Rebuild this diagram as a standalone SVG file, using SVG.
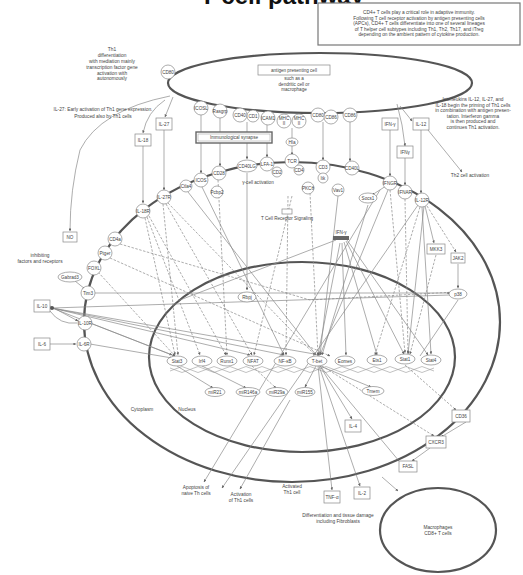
<svg xmlns="http://www.w3.org/2000/svg" width="523" height="575" viewBox="0 0 523 575">
<style>
text{font-family:"Liberation Sans",Arial,sans-serif;fill:#444;text-anchor:middle;font-size:4.6px}
.t{font-size:4.8px}
.mem{fill:none;stroke:#555;stroke-width:2.2}
.n{fill:#fff;stroke:#888;stroke-width:0.7}
.b{fill:#fff;stroke:#888;stroke-width:0.7}
.s{fill:none;stroke:#8a8a8a;stroke-width:0.7}
.d{fill:none;stroke:#8a8a8a;stroke-width:0.7;stroke-dasharray:2.5 1.5}
.title{font-size:24px;font-weight:bold;fill:#111;text-anchor:start}
</style>
<defs>
<marker id="a" viewBox="0 0 6 6" refX="5.5" refY="3" markerWidth="4" markerHeight="4" orient="auto"><path d="M0,0L6,3L0,6z" fill="#666"/></marker>
</defs>
<rect width="523" height="575" fill="#fff"/>
<text class="title" x="200" y="4">T cell pathway</text>

<!-- compartments -->
<g id="compartments">
<ellipse class="mem" cx="320" cy="83" rx="152" ry="30"/>
<ellipse class="mem" cx="292" cy="322" rx="208" ry="160"/>
<ellipse class="mem" cx="302" cy="357" rx="153" ry="95" stroke-width="1.8"/>
<ellipse class="mem" cx="438" cy="530" rx="58" ry="42" stroke-width="1.6"/>
<path d="M170,371 q4,-3 8,0 t8,0 t8,0 t8,0 t8,0 t8,0 t8,0 t8,0 t8,0 t8,0 t8,0 t8,0 t8,0 t8,0 t8,0 t8,0 t8,0 t8,0 t8,0 t8,0 t8,0 t8,0 t8,0 t8,0 t8,0 t8,0 t8,0 t8,0 t8,0 t8,0 t8,0 t8,0 t8,0" fill="none" stroke="#999" stroke-width="0.6"/>
<path d="M170,368 q4,3 8,0 t8,0 t8,0 t8,0 t8,0 t8,0 t8,0 t8,0 t8,0 t8,0 t8,0 t8,0 t8,0 t8,0 t8,0 t8,0 t8,0 t8,0 t8,0 t8,0 t8,0 t8,0 t8,0 t8,0 t8,0 t8,0 t8,0 t8,0 t8,0 t8,0 t8,0 t8,0 t8,0" fill="none" stroke="#999" stroke-width="0.6"/>
</g>

<!-- connectors -->
<g id="connectors">
<path class="s" d="M164,130V190" marker-end="url(#a)"/>
<path class="s" d="M143,146V203" marker-end="url(#a)"/>
<path class="s" d="M173,97L165,117" marker-end="url(#a)"/>
<path class="s" d="M165,100Q147,112 143,133" marker-end="url(#a)"/>
<path class="s" d="M170,96Q100,110 80,150Q70,190 70,231" marker-end="url(#a)"/>
<path class="s" d="M201,115V173" marker-end="url(#a)"/>
<path class="s" d="M220,118V166" marker-end="url(#a)"/>
<path class="s" d="M247,122V159" marker-end="url(#a)"/>
<path class="s" d="M267,125V157" marker-end="url(#a)"/>
<path class="s" d="M292,128V138"/>
<path class="s" d="M292,146V155" marker-end="url(#a)"/>
<path class="s" d="M323,122V160" marker-end="url(#a)"/>
<path class="s" d="M350,122V161" marker-end="url(#a)"/>
<path class="s" d="M390,130V176" marker-end="url(#a)"/>
<path class="s" d="M405,158V185" marker-end="url(#a)"/>
<path class="s" d="M421,130V193" marker-end="url(#a)"/>
<path class="s" d="M397,104Q403,125 405,146" marker-end="url(#a)"/>
<path class="s" d="M400,106L412,121" marker-end="url(#a)"/>
<path class="s" d="M428,130L462,172" marker-end="url(#a)"/>
<path class="d" d="M145,218L175,355" marker-end="url(#a)"/>
<path class="d" d="M147,217L200,355" marker-end="url(#a)"/>
<path class="d" d="M149,216L226,355" marker-end="url(#a)"/>
<path class="d" d="M166,204L252,355" marker-end="url(#a)"/>
<path class="d" d="M168,203L315,355" marker-end="url(#a)"/>
<path class="d" d="M163,204L178,355" marker-end="url(#a)"/>
<path class="s" d="M188,192L316,355" marker-end="url(#a)"/>
<path class="s" d="M202,187L284,355" marker-end="url(#a)"/>
<path class="d" d="M218,180L227,355" marker-end="url(#a)"/>
<path class="s" d="M247,173V290" marker-end="url(#a)"/>
<path class="d" d="M288,196L286,355" marker-end="url(#a)"/>
<path class="d" d="M292,196L254,355" marker-end="url(#a)"/>
<path class="d" d="M310,193L318,355" marker-end="url(#a)"/>
<path class="s" d="M338,196L320,355" marker-end="url(#a)"/>
<path class="s" d="M340,243L318,355" marker-end="url(#a)"/>
<path class="s" d="M342,243L346,355" marker-end="url(#a)"/>
<path class="s" d="M344,242L377,355" marker-end="url(#a)"/>
<path class="s" d="M346,241L404,354" marker-end="url(#a)"/>
<path class="s" d="M347,240L428,355" marker-end="url(#a)"/>
<path class="s" d="M336,240L180,300" />
<path class="d" d="M390,190L405,353" marker-end="url(#a)"/>
<path class="s" d="M388,190L320,355" marker-end="url(#a)"/>
<path class="s" d="M368,205L322,355" marker-end="url(#a)"/>
<path class="s" d="M386,186L372,195" marker-end="url(#a)"/>
<path class="d" d="M405,199L408,353" marker-end="url(#a)"/>
<path class="s" d="M422,207L431,354" marker-end="url(#a)"/>
<path class="s" d="M424,206L408,354" marker-end="url(#a)"/>
<path class="s" d="M425,206L434,243" marker-end="url(#a)"/>
<path class="d" d="M427,206L456,252" marker-end="url(#a)"/>
<path class="d" d="M420,207L375,355" marker-end="url(#a)"/>
<path class="s" d="M458,264V288" marker-end="url(#a)"/>
<path class="d" d="M436,255L410,354" marker-end="url(#a)"/>
<path class="s" d="M418,205L222,488" marker-end="url(#a)"/>
<path class="s" d="M380,190L204,482" marker-end="url(#a)"/>
<path class="s" d="M95,293H450" marker-end="url(#a)"/>
<path class="s" d="M75,281L85,289" marker-end="url(#a)"/>
<path class="d" d="M110,258L330,356" marker-end="url(#a)"/>
<path class="d" d="M98,272L175,356" marker-end="url(#a)"/>
<path class="d" d="M120,244L310,300L455,292"/>
<path class="s" d="M50,306L78,321" marker-end="url(#a)"/>
<path class="s" d="M52,308L172,355" marker-end="url(#a)"/>
<path class="s" d="M52,308L320,355" marker-end="url(#a)"/>
<path class="s" d="M52,308L284,355" marker-end="url(#a)"/>
<path class="s" d="M52,308L250,355" marker-end="url(#a)"/>
<path class="s" d="M52,308L450,295" />
<path class="s" d="M50,311Q60,325 77,323"/>
<path class="s" d="M90,323L175,356" marker-end="url(#a)"/>
<path class="s" d="M50,344H76" marker-end="url(#a)"/>
<path class="s" d="M90,344L172,358" marker-end="url(#a)"/>
<path class="s" d="M177,366L213,388" marker-end="url(#a)"/>
<path class="s" d="M202,366L246,388" marker-end="url(#a)"/>
<path class="d" d="M252,366L276,388" marker-end="url(#a)"/>
<path class="s" d="M316,366L305,387" marker-end="url(#a)"/>
<path class="s" d="M318,366L332,490" marker-end="url(#a)"/>
<path class="s" d="M319,366L360,486" marker-end="url(#a)"/>
<path class="s" d="M320,366L352,419" marker-end="url(#a)"/>
<path class="s" d="M320,366L399,461" marker-end="url(#a)"/>
<path class="d" d="M322,366L434,436" marker-end="url(#a)"/>
<path class="d" d="M405,365L456,410" marker-end="url(#a)"/>
<path class="s" d="M320,366L371,387" marker-end="url(#a)"/>
<path class="s" d="M290,400L240,489" marker-end="url(#a)"/>
<path class="s" d="M458,300L420,356"/>
<path class="s" d="M466,422L441,437" marker-end="url(#a)"/>
<path class="s" d="M430,448L412,461" marker-end="url(#a)"/>
<path class="s" d="M382,477L398,491" marker-end="url(#a)"/>
</g>

<g id="apc-label"><rect class="b" x="258" y="65" width="72" height="10"/><text x="294" y="71.5">antigen presenting cell</text><text x="294" y="80">such as a</text><text x="294" y="85.5">dendritic cell or</text><text x="294" y="91">macrophage</text></g>
<g id="cd80"><circle class="n" cx="168" cy="72" r="7"/><text x="168" y="73.5">CD80</text></g>
<g id="icosl"><circle class="n" cx="201" cy="108" r="7"/><text x="201" y="109.5">ICOSL</text></g>
<g id="apc2"><circle class="n" cx="220" cy="111" r="7"/><text x="220" y="112.5">Rasgrp</text></g>
<g id="cd40"><circle class="n" cx="240" cy="115" r="7"/><text x="240" y="116.5">CD40</text></g>
<g id="cd1"><circle class="n" cx="253" cy="116" r="6"/><text x="253" y="117.5">CD1</text></g>
<g id="icam1"><circle class="n" cx="268" cy="118" r="7"/><text x="268" y="119.5">ICAM1</text></g>
<g id="mhc"><circle class="n" cx="284" cy="121" r="7"/><circle class="n" cx="299" cy="121" r="7"/><text x="284" y="120">MHC</text><text x="284" y="124.5">II</text><text x="299" y="120">MHC</text><text x="299" y="124.5">II</text></g>
<g id="cd80b"><circle class="n" cx="318" cy="115" r="7"/><text x="318" y="116.5">CD80</text></g>
<g id="cd86"><circle class="n" cx="331" cy="117" r="7"/><text x="331" y="118.5">CD86</text></g>
<g id="cd86b"><circle class="n" cx="350" cy="115" r="7"/><text x="350" y="116.5">CD86</text></g>
<g id="synapse"><rect x="196" y="132" width="76" height="11" fill="#fff" stroke="#666" stroke-width="1.4"/><rect x="198" y="134" width="72" height="7" fill="none" stroke="#999" stroke-width="0.5"/><text x="234" y="139.3">Immunological synapse</text></g>
<g id="hla"><ellipse class="n" cx="292" cy="142" rx="6" ry="4"/><text x="292" y="143.5">Hla</text></g>

<g id="il27"><rect class="b" x="156" y="118" width="16" height="12"/><text x="164" y="125.5">IL-27</text></g>
<g id="il18"><rect class="b" x="135" y="134" width="16" height="12"/><text x="143" y="141.5">IL-18</text></g>
<g id="ifng1"><rect class="b" x="382" y="118" width="16" height="12"/><text x="390" y="125.5">IFN-γ</text></g>
<g id="il12"><rect class="b" x="413" y="118" width="16" height="12"/><text x="421" y="125.5">IL-12</text></g>
<g id="ifng2"><rect class="b" x="397" y="146" width="16" height="12"/><text x="405" y="153.5">IFNγ</text></g>
<g id="no"><rect class="b" x="63" y="232" width="14" height="10"/><text x="70" y="238.5">NO</text></g>
<g id="il10"><rect class="b" x="34" y="300" width="16" height="12"/><text x="42" y="307.5">IL-10</text><circle cx="52" cy="308" r="2" fill="#555"/></g>
<g id="il6"><rect class="b" x="34" y="338" width="16" height="12"/><text x="42" y="345.5">IL-6</text></g>
<g id="il4"><rect class="b" x="345" y="420" width="16" height="12"/><text x="353" y="427.5">IL-4</text></g>
<g id="tnf"><rect class="b" x="324" y="491" width="16" height="12"/><text x="332" y="498.5">TNF-α</text></g>
<g id="il2"><rect class="b" x="354" y="487" width="16" height="12"/><text x="362" y="494.5">IL-2</text></g>
<g id="cd36"><rect class="b" x="452" y="410" width="18" height="12"/><text x="461" y="417.5">CD36</text></g>
<g id="cxcr3"><rect class="b" x="426" y="436" width="20" height="12"/><text x="436" y="443.5">CXCR3</text></g>
<g id="fasl"><rect class="b" x="399" y="461" width="18" height="11"/><text x="408" y="468">FASL</text></g>

<g id="il18r"><circle class="n" cx="143" cy="211" r="7"/><text x="143" y="212.5">IL-18R</text></g>
<g id="il27r"><circle class="n" cx="164" cy="197" r="7"/><text x="164" y="198.5">IL-27R</text></g>
<g id="ctla4"><circle class="n" cx="186" cy="186" r="6"/><text x="186" y="187.5">Ctla4</text></g>
<g id="icos"><circle class="n" cx="201" cy="180" r="7"/><text x="201" y="181.5">ICOS</text></g>
<g id="cd28"><circle class="n" cx="219" cy="173" r="7"/><text x="219" y="174.5">CD28</text></g>
<g id="cd40l"><ellipse class="n" cx="247" cy="166" rx="10" ry="6"/><text x="247" y="167.5">CD40LG</text></g>
<g id="lfa1"><circle class="n" cx="267" cy="164" r="7"/><text x="267" y="165.5">LFA-1</text></g>
<g id="cd2"><circle class="n" cx="277" cy="172" r="5"/><text x="277" y="173.5">CD2</text></g>
<g id="tcr"><circle class="n" cx="292" cy="161" r="7"/><text x="292" y="162.5">TCR</text></g>
<g id="cd4"><circle class="n" cx="299" cy="170" r="5"/><text x="299" y="171.5">CD4</text></g>
<g id="cd3"><circle class="n" cx="323" cy="167" r="7"/><text x="323" y="168.5">CD3</text></g>
<g id="cd28b"><circle class="n" cx="352" cy="168" r="7"/><text x="352" y="169.5">CD40L</text></g>
<g id="ifngr"><circle class="n" cx="390" cy="183" r="7"/><text x="390" y="184.5">IFNGR</text></g>
<g id="ifnar"><circle class="n" cx="405" cy="192" r="7"/><text x="405" y="193.5">IFNAR</text></g>
<g id="il12r"><circle class="n" cx="422" cy="200" r="7"/><text x="422" y="201.5">IL-12R</text></g>
<g id="cd4a"><circle class="n" cx="115" cy="239" r="7"/><text x="115" y="240.5">CD4a</text></g>
<g id="plagl"><circle class="n" cx="105" cy="253" r="7"/><text x="105" y="254.5">Ptger</text></g>
<g id="ecm"><circle class="n" cx="94" cy="268" r="7"/><text x="94" y="269.5">FOXL</text></g>
<g id="gabrd"><ellipse class="n" cx="70" cy="277" rx="12" ry="5"/><text x="70" y="278.5">Gabrad3</text></g>
<g id="tim3"><circle class="n" cx="88" cy="293" r="7"/><text x="88" y="294.5">Tim3</text></g>
<g id="il10r"><circle class="n" cx="85" cy="323" r="7"/><text x="85" y="324.5">IL-10R</text></g>
<g id="il6r"><circle class="n" cx="84" cy="344" r="7"/><text x="84" y="345.5">IL-6R</text></g>

<g id="pcbp"><circle class="n" cx="217" cy="192" r="6"/><text x="217" y="193.5">Pcbp2</text></g>
<g id="gca"><text x="258" y="184">γ-cell activation</text></g>
<g id="itk"><circle class="n" cx="323" cy="178" r="5"/><text x="323" y="179.5">Itk</text></g>
<g id="pkc"><circle class="n" cx="308" cy="188" r="6"/><text x="308" y="189.5">PKCθ</text></g>
<g id="vav1"><circle class="n" cx="338" cy="190" r="6"/><text x="338" y="191.5">Vav1</text></g>
<g id="tcrs"><rect class="b" x="282" y="209" width="10" height="5"/><text x="287" y="220">T Cell Receptor Signaling</text></g>
<g id="socs1"><ellipse class="n" cx="368" cy="198" rx="9" ry="5"/><text x="368" y="199.5">Socs1</text></g>
<g id="ifng3"><text x="341" y="234">IFN-γ</text><rect x="333" y="236" width="16" height="4" fill="#666"/></g>
<g id="nkg"><rect class="b" x="427" y="244" width="18" height="10"/><text x="436" y="250.5">MKK3</text></g>
<g id="jak2"><rect class="b" x="451" y="253" width="14" height="10"/><text x="458" y="259.5">JAK2</text></g>
<g id="p38"><ellipse class="n" cx="458" cy="294" rx="9" ry="5"/><text x="458" y="295.5">p38</text></g>
<g id="prkcq"><ellipse class="n" cx="247" cy="297" rx="9" ry="5"/><text x="247" y="298.5">Rbpj</text></g>

<g id="stat3"><ellipse class="n" cx="177" cy="361" rx="10" ry="5"/><text x="177" y="362.5">Stat3</text></g>
<g id="ahr"><ellipse class="n" cx="202" cy="361" rx="10" ry="5"/><text x="202" y="362.5">Irf4</text></g>
<g id="runx"><ellipse class="n" cx="227" cy="361" rx="10" ry="5"/><text x="227" y="362.5">Runx1</text></g>
<g id="nfat"><ellipse class="n" cx="253" cy="361" rx="10" ry="5"/><text x="253" y="362.5">NFAT</text></g>
<g id="nfkb"><ellipse class="n" cx="285" cy="361" rx="11" ry="5"/><text x="285" y="362.5">NF-κB</text></g>
<g id="tbet"><ellipse class="n" cx="317" cy="361" rx="10" ry="5"/><text x="317" y="362.5">T-bet</text></g>
<g id="eomes"><ellipse class="n" cx="345" cy="361" rx="10" ry="5"/><text x="345" y="362.5">Eomes</text></g>
<g id="ets"><ellipse class="n" cx="377" cy="360" rx="10" ry="5"/><text x="377" y="361.5">Ets1</text></g>
<g id="stat1"><ellipse class="n" cx="405" cy="359" rx="10" ry="5"/><text x="405" y="360.5">Stat1</text></g>
<g id="stat4"><ellipse class="n" cx="431" cy="360" rx="10" ry="5"/><text x="431" y="361.5">Stat4</text></g>
<g id="mir21"><ellipse class="n" cx="215" cy="392" rx="10" ry="4.5"/><text x="215" y="393.5">miR21</text></g>
<g id="mir146"><ellipse class="n" cx="248" cy="392" rx="12" ry="4.5"/><text x="248" y="393.5">miR146a</text></g>
<g id="mir29"><ellipse class="n" cx="277" cy="392" rx="11" ry="4.5"/><text x="277" y="393.5">miR29a</text></g>
<g id="mir155"><ellipse class="n" cx="305" cy="392" rx="10" ry="4.5"/><text x="305" y="393.5">miR155</text></g>
<g id="tmem"><ellipse class="n" cx="373" cy="391" rx="11" ry="4.5"/><text x="373" y="392.5">Tmem</text></g>

<g id="notes">
<text class="t" x="112" y="51">Th1</text>
<text class="t" x="112" y="57">differentiation</text>
<text class="t" x="112" y="63">with mediation mainly</text>
<text class="t" x="112" y="69">transcription factor gene</text>
<text class="t" x="112" y="74.5">activation with</text>
<text class="t" x="112" y="80">autonomously</text>
<text class="t" x="103" y="111">IL-27: Early activation of Th1 gene expression.</text>
<text class="t" x="103" y="117.5">Produced also by Th1 cells</text>
<text class="t" x="40" y="257">inhibiting</text>
<text class="t" x="40" y="262.5">factors and receptors</text>
<text class="t" x="473" y="101">Interleukins IL-12, IL-27, and</text>
<text class="t" x="473" y="106.5">IL-18 begin the priming of Th1 cells</text>
<text class="t" x="473" y="112">in combination with antigen presen-</text>
<text class="t" x="473" y="117.5">tation. Interferon gamma</text>
<text class="t" x="473" y="123">is then produced and</text>
<text class="t" x="473" y="128.5">continues Th1 activation.</text>
<text class="t" x="470" y="177">Th2 cell activation</text>
<text class="t" x="142" y="411">Cytoplasm</text>
<text class="t" x="187" y="411">Nucleus</text>
<text class="t" x="196" y="489">Apoptosis of</text>
<text class="t" x="196" y="494.5">naive Th cells</text>
<text class="t" x="241" y="496">Activation</text>
<text class="t" x="241" y="501.5">of Th1 cells</text>
<text class="t" x="292" y="488">Activated</text>
<text class="t" x="292" y="493.5">Th1 cell</text>
<text class="t" x="338" y="517">Differentiation and tissue damage</text>
<text class="t" x="338" y="522.5">including Fibroblasts</text>
<text class="t" x="438" y="529">Macrophages</text>
<text class="t" x="438" y="535">CD8+ T cells</text>
</g>

<g id="info">
<rect x="318" y="3" width="202" height="42" fill="#fff" stroke="#777" stroke-width="1.2"/>
<text class="t" x="419" y="14">CD4+ T cells play a critical role in adaptive immunity.</text>
<text class="t" x="419" y="19.5">Following T cell receptor activation by antigen presenting cells</text>
<text class="t" x="419" y="25">(APCs), CD4+ T cells differentiate into one of several lineages</text>
<text class="t" x="419" y="30.5">of T helper cell subtypes including Th1, Th2, Th17, and iTreg</text>
<text class="t" x="419" y="36">depending on the ambient pattern of cytokine production.</text>
</g>
</svg>
